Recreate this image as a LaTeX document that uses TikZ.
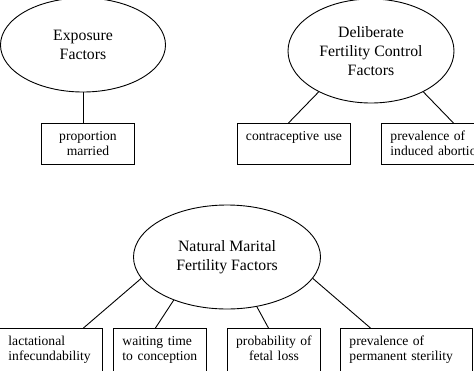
\documentclass[tikz,border=0pt]{standalone}
\usepackage{fontspec}
\setmainfont{Liberation Serif}
\usetikzlibrary{shapes.geometric}

\tikzset{
  factor/.style={draw, ellipse, inner sep=0pt, align=center,
    font=\fontsize{15.8}{19}\selectfont},
  measure/.style={draw, rectangle, anchor=north west, inner xsep=9pt,
    inner ysep=5pt, text height=12pt, text depth=19pt,
    font=\fontsize{13.6}{15}\selectfont},
}

\begin{document}
\begin{tikzpicture}[x=1pt, y=-1pt, line width=0.9pt]
\useasboundingbox (0,0) rectangle (474,370);
\clip (0,0) rectangle (474,370);

% Exposure
\node[factor, minimum width=165pt, minimum height=94pt] (expo) at (83,45) {Exposure\\Factors};
\node[measure, text width=75pt, align=center] (prop) at (41,123) {proportion\\married};
\draw (expo.south) -- (expo.south |- prop.north);

% Deliberate control
\node[factor, minimum width=166pt, minimum height=104pt] (deli) at (371,51) {Deliberate\\Fertility Control\\Factors};
\node[measure, inner xsep=8pt, text width=97pt, align=center] (cuse) at (237,123) {contraceptive use};
\node[measure, text width=95pt, align=left] (abort) at (381,123) {prevalence of\\induced abortion};
\draw (deli.-142) -- ([xshift=-5.5pt]cuse.north);
\draw (deli.-38)  -- ([xshift=15.5pt]abort.north);

% Natural marital
\node[factor, minimum width=187pt, minimum height=104pt] (natu) at (227,257) {Natural Marital\\Fertility Factors};
\node[measure, text width=85pt, align=left, text depth=30pt] (lact) at (-1,328) {lactational\\infecundability};
\node[measure, text width=75pt, align=left, text depth=30pt] (wait) at (113,328) {waiting time\\to conception};
\node[measure, inner xsep=8pt, text width=77pt, align=center, text depth=30pt] (fetal) at (227,328) {probability of\\fetal loss};
\node[measure, text width=114pt, align=left, text depth=30pt] (steril) at (340,328) {prevalence of\\permanent sterility};
\draw (natu.-166)   -- ([xshift=32.5pt]lact.north);
\draw (natu.-141.6) -- ([xshift=-4.5pt]wait.north);
\draw (natu.-59.5)  -- ([xshift=-5.5pt]fetal.north);
\draw (natu.-14)    -- ([xshift=-36pt]steril.north);

\end{tikzpicture}
\end{document}
